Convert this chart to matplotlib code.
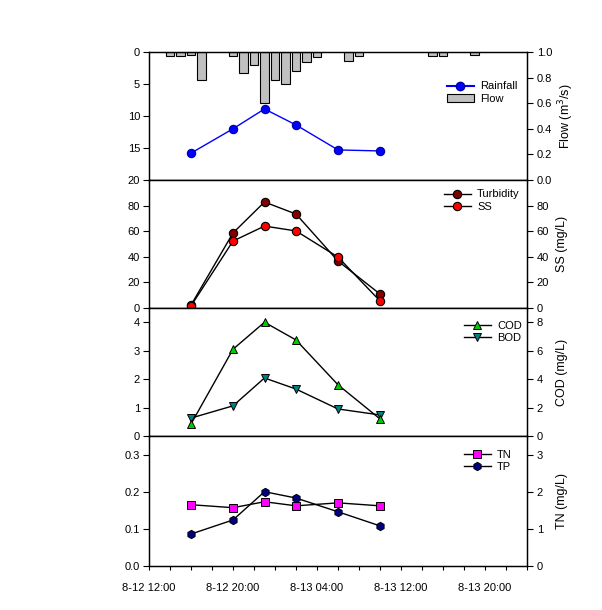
import matplotlib
matplotlib.use('Agg')
import matplotlib.pyplot as plt
import matplotlib.dates as mdates
from matplotlib.ticker import FixedLocator, NullFormatter
from matplotlib.patches import Patch
from matplotlib.lines import Line2D
import pandas as pd

plt.rcParams['font.family'] = ['Liberation Sans', 'DejaVu Sans']
plt.rcParams['font.size'] = 8

YEAR = '2000-'

# ---------------- data ----------------
sample_times = ['08-12 16:00', '08-12 20:00', '08-12 23:00',
                '08-13 02:00', '08-13 06:00', '08-13 10:00']
flow = [0.21, 0.40, 0.555, 0.43, 0.235, 0.227]
rain_times = ['08-12 14:00', '08-12 15:00', '08-12 16:00', '08-12 17:00',
              '08-12 20:00', '08-12 21:00', '08-12 22:00', '08-12 23:00',
              '08-13 00:00', '08-13 01:00', '08-13 02:00', '08-13 03:00',
              '08-13 04:00', '08-13 07:00', '08-13 08:00', '08-13 15:00',
              '08-13 16:00', '08-13 19:00']
rainfall = [0.6, 0.6, 0.5, 4.4, 0.6, 3.3, 2.0, 8.0, 4.4, 5.0, 3.0, 1.5,
            0.8, 1.4, 0.6, 0.6, 0.6, 0.5]
turbidity = [2.3, 58.6, 82.8, 73.4, 36.7, 10.9]
ss = [1.6, 52.3, 64.0, 60.2, 39.8, 5.5]
cod = [0.84, 6.1, 8.0, 6.75, 3.6, 1.2]
bod = [0.63, 1.06, 2.04, 1.65, 0.95, 0.74]
tn = [1.65, 1.57, 1.73, 1.62, 1.70, 1.62]
tp = [0.086, 0.124, 0.200, 0.183, 0.146, 0.108]

x_start, x_end = '08-12 12:00', '08-14 00:00'
major_ticks = ['08-12 12:00', '08-12 20:00', '08-13 04:00', '08-13 12:00', '08-13 20:00']
xtick_labels = ['8-12 12:00', '8-12 20:00', '8-13 04:00', '8-13 12:00', '8-13 20:00']


def to_dt(lst):
    return pd.to_datetime([YEAR + s for s in lst], format='%Y-%m-%d %H:%M')


t_samp = to_dt(sample_times)
t_rain = to_dt(rain_times)
t0, t1 = to_dt([x_start, x_end])
major_num = mdates.date2num(to_dt(major_ticks))
minor_num = mdates.date2num(pd.date_range(t0, t1, freq='2h'))

# ---------------- layout ----------------
W, H = 602, 610
fig = plt.figure(figsize=(W / 100, H / 100), dpi=100)
L, R = 149, 527
bounds = [(52, 180), (180, 308), (308, 436), (436, 566)]
MS = 6


def make_axes(top, bot):
    ax = fig.add_axes([L / W, 1 - bot / H, (R - L) / W, (bot - top) / H])
    ax.set_xlim(t0, t1)
    ax.xaxis.set_major_locator(FixedLocator(major_num))
    ax.xaxis.set_minor_locator(FixedLocator(minor_num))
    ax.xaxis.set_major_formatter(NullFormatter())
    ax.tick_params(axis='x', which='major', direction='out', length=3, width=0.8)
    ax.tick_params(axis='x', which='minor', direction='out', length=3, width=0.8)
    ax.tick_params(axis='y', direction='out', length=4, width=0.8, pad=2.5,
                   labelsize=8)
    for s in ax.spines.values():
        s.set_linewidth(0.9)
    axr = ax.twinx()
    axr.tick_params(axis='y', direction='out', length=4, width=0.8, pad=3,
                    labelsize=8)
    for s in axr.spines.values():
        s.set_linewidth(0.9)
    axr.yaxis.set_label_coords(1.078, 0.5)
    return ax, axr


leg_kw = dict(frameon=False, fontsize=8, handlelength=2.4, handletextpad=0.6,
              labelspacing=0.25, borderpad=0, borderaxespad=0, loc='upper left')

# Panel 1: rainfall (bars, inverted) + flow
ax1, ax1r = make_axes(*bounds[0])
ax1.bar(t_rain, rainfall, width=0.8 / 24, color='#c0c0c0', edgecolor='black',
        linewidth=0.8)
ax1.set_ylim(20, 0)
ax1.set_yticks([0, 5, 10, 15, 20])
ax1r.plot(t_samp, flow, color='#0000ff', lw=1.0, marker='o', ms=MS,
          mfc='#0000ff', mec='#0000a0', mew=0.8)
ax1r.set_ylim(0, 1.0)
ax1r.set_yticks([0.0, 0.2, 0.4, 0.6, 0.8, 1.0])
ax1r.set_yticklabels(['0.0', '0.2', '0.4', '0.6', '0.8', '1.0'])
ax1r.set_ylabel('Flow (m$^3$/s)', fontsize=9)
h1 = [Line2D([], [], color='#0000ff', lw=1.5, marker='o', ms=MS,
             mfc='#0000ff', mec='#0000a0'),
      Patch(facecolor='#c0c0c0', edgecolor='black', linewidth=0.8)]
ax1r.legend(h1, ['Rainfall', 'Flow'], bbox_to_anchor=(0.788, 0.77), **leg_kw)

# Panel 2: turbidity + SS
ax2, ax2r = make_axes(*bounds[1])
l_tu, = ax2.plot(t_samp, turbidity, color='black', lw=1.0, marker='o', ms=MS,
                 mfc='#800000', mec='black', mew=0.8)
ax2.set_ylim(0, 100)
ax2.set_yticks([0, 20, 40, 60, 80])
ax2r.set_ylim(0, 100)
l_ss, = ax2r.plot(t_samp, ss, color='black', lw=1.0, marker='o', ms=MS,
                  mfc='#ff0000', mec='black', mew=0.8)
ax2r.set_yticks([0, 20, 40, 60, 80])
ax2r.set_ylabel('SS (mg/L)', fontsize=9)
ax2r.legend([l_tu, l_ss], ['Turbidity', 'SS'], bbox_to_anchor=(0.78, 0.926),
            **leg_kw)

# Panel 3: COD + BOD
ax3, ax3r = make_axes(*bounds[2])
l_bod, = ax3.plot(t_samp, bod, color='black', lw=1.0, marker='v', ms=MS,
                  mfc='#008080', mec='black', mew=0.7)
ax3.set_ylim(0, 4.5)
ax3.set_yticks([0, 1, 2, 3, 4])
l_cod, = ax3r.plot(t_samp, cod, color='black', lw=1.0, marker='^', ms=MS,
                   mfc='#00cc00', mec='black', mew=0.7)
ax3r.set_ylim(0, 9)
ax3r.set_yticks([0, 2, 4, 6, 8])
ax3r.set_ylabel('COD (mg/L)', fontsize=9)
ax3r.legend([l_cod, l_bod], ['COD', 'BOD'], bbox_to_anchor=(0.833, 0.902),
            **leg_kw)

# Panel 4: TN + TP
ax4, ax4r = make_axes(*bounds[3])
l_tp, = ax4.plot(t_samp, tp, color='black', lw=1.0, marker='h', ms=MS,
                 mfc='#000080', mec='black', mew=0.7)
ax4.set_ylim(0, 0.35)
ax4.set_yticks([0.0, 0.1, 0.2, 0.3])
ax4.set_yticklabels(['0.0', '0.1', '0.2', '0.3'])
l_tn, = ax4r.plot(t_samp, tn, color='black', lw=1.0, marker='s', ms=MS - 0.5,
                  mfc='#ff00ff', mec='black', mew=0.7)
ax4r.set_ylim(0, 3.5)
ax4r.set_yticks([0, 1, 2, 3])
ax4r.set_ylabel('TN (mg/L)', fontsize=9)
ax4r.legend([l_tn, l_tp], ['TN', 'TP'], bbox_to_anchor=(0.833, 0.896),
            **leg_kw)
ax4.set_xticks(major_num)
ax4.set_xticklabels(xtick_labels, fontsize=8)
ax4.tick_params(axis='x', which='major', pad=9)

fig.savefig('out.png', dpi=100)
